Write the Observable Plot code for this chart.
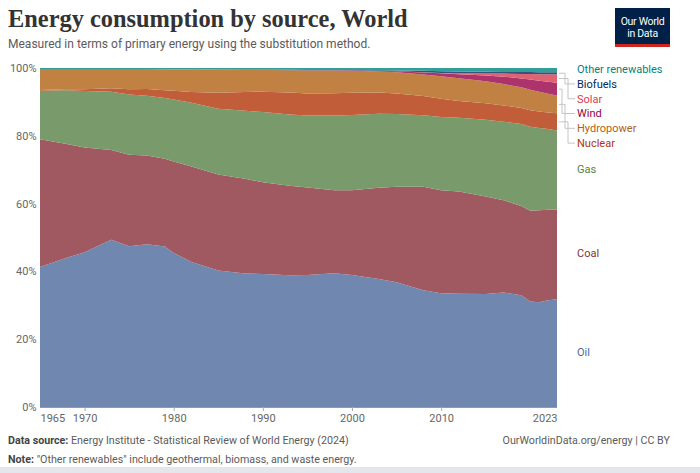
<!DOCTYPE html>
<html>
<head>
<meta charset="utf-8">
<script src="https://cdn.jsdelivr.net/npm/d3@7"></script>
<script src="https://cdn.jsdelivr.net/npm/@observablehq/plot@0.6"></script>
<style>
  html, body { margin: 0; padding: 0; background: #fff; }
  #wrap { position: relative; width: 700px; height: 473px; overflow: hidden;
          font-family: "Liberation Sans Narrow", "Roboto", "Liberation Sans", sans-serif; color: #5b5b5b; }
  #title { position: absolute; left: 8px; top: 5px; font-family: "Liberation Serif", "DejaVu Serif", serif;
           font-weight: bold; font-size: 24.4px; color: #333; white-space: nowrap; line-height: 28px; }
  #subtitle { position: absolute; left: 8px; top: 36px; font-size: 13px; color: #5b5b5b; white-space: nowrap; line-height: 16px;
              transform: scaleX(0.925); transform-origin: 0 0; }
  #logo { position: absolute; left: 615px; top: 8px; width: 55px; height: 39px; background: #002147; }
  #logo .bar { position: absolute; left: 0; bottom: 0; width: 55px; height: 3px; background: #ce261e; }
  #logo .t { position: absolute; left: 0; width: 55px; text-align: center; color: #fff; font-size: 10.5px; line-height: 10px; letter-spacing: -0.3px; }
  #chart { position: absolute; left: 0; top: 56px; }
  .foot { position: absolute; font-size: 11.5px; color: #5b5b5b; white-space: nowrap; line-height: 14px;
          transform: scaleX(0.93); transform-origin: 0 0; }
  .foot.r { transform-origin: 100% 0; }
  .foot b { color: #444; }
  #strip { position: absolute; left: 0; top: 467px; width: 700px; height: 6px; background: #e3e6ea; }
</style>
</head>
<body>
<div id="wrap">
  <div id="title">Energy consumption by source, World</div>
  <div id="subtitle">Measured in terms of primary energy using the substitution method.</div>
  <div id="logo"><div class="t" style="top:9px">Our World</div><div class="t" style="top:21px">in Data</div><div class="bar"></div></div>
  <div id="chart"></div>
  <div class="foot" style="left:8px; top:433px;"><b>Data source:</b> Energy Institute - Statistical Review of World Energy (2024)</div>
  <div class="foot r" style="right:30px; top:433px;">OurWorldinData.org/energy | CC BY</div>
  <div class="foot" style="left:8px; top:452px;"><b>Note:</b> "Other renewables" include geothermal, biomass, and waste energy.</div>
  <div id="strip"></div>
</div>
<script>
// ---- Data (shares of primary energy, %) ----
const years = [1965, 1968, 1970, 1973, 1975, 1977, 1979, 1980, 1982, 1985, 1988, 1990, 1993, 1995,
               1998, 2000, 2003, 2005, 2008, 2010, 2012, 2015, 2017, 2019, 2020, 2021, 2022, 2023];
const oil = [41.3, 44.0, 45.7, 49.3, 47.5, 48.0, 47.4, 45.5, 42.8, 40.3, 39.5, 39.2, 38.9, 39.0,
             39.5, 39.0, 37.8, 37.0, 34.6, 33.6, 33.4, 33.3, 33.8, 33.1, 31.2, 31.0, 31.6, 31.8];
const coal = [37.7, 33.6, 30.9, 26.5, 27.0, 26.2, 25.9, 27.0, 28.2, 28.3, 28.0, 27.1, 26.4, 25.8,
              24.5, 25.0, 27.0, 28.3, 30.6, 30.4, 30.2, 28.7, 27.2, 26.4, 26.8, 27.2, 26.7, 26.5];
const gas = [14.3, 15.8, 16.7, 17.2, 17.8, 17.6, 17.9, 18.3, 18.8, 19.4, 20.1, 20.7, 21.0, 21.3,
             22.0, 22.2, 21.8, 21.5, 21.2, 21.6, 21.8, 22.6, 23.2, 24.2, 24.8, 24.3, 23.9, 23.4];
const nuclear = [0.2, 0.3, 0.5, 1.0, 1.5, 2.0, 2.3, 2.6, 3.2, 4.7, 5.6, 6.0, 6.5, 6.5,
                 6.6, 6.6, 6.3, 6.1, 5.7, 5.4, 4.9, 4.8, 4.8, 4.8, 4.9, 4.9, 4.9, 5.1];
const hydropower = [6.2, 6.0, 6.0, 5.7, 6.0, 5.9, 6.2, 6.3, 6.6, 6.8, 6.5, 6.4, 6.6, 6.8,
                    6.7, 6.5, 6.2, 6.3, 6.4, 6.6, 6.7, 6.5, 6.3, 6.1, 6.1, 5.8, 5.5, 5.2];
const wind = [0, 0, 0, 0, 0, 0, 0, 0, 0, 0, 0, 0, 0, 0.02,
              0.05, 0.1, 0.2, 0.3, 0.6, 0.9, 1.2, 1.7, 2.2, 2.6, 3.0, 3.3, 3.6, 3.8];
const solar = [0, 0, 0, 0, 0, 0, 0, 0, 0, 0, 0, 0, 0, 0,
               0, 0, 0, 0, 0.05, 0.1, 0.3, 0.6, 0.9, 1.3, 1.6, 1.9, 2.2, 2.5];
const biofuels = [0, 0, 0, 0, 0, 0, 0.02, 0.03, 0.05, 0.07, 0.08, 0.1, 0.1, 0.1,
                  0.1, 0.1, 0.15, 0.2, 0.4, 0.5, 0.5, 0.5, 0.5, 0.6, 0.6, 0.6, 0.6, 0.6];
const otherRenewables = [0.3, 0.3, 0.3, 0.3, 0.3, 0.3, 0.35, 0.35, 0.4, 0.45, 0.5, 0.5, 0.55, 0.6,
                         0.6, 0.6, 0.7, 0.75, 0.85, 0.95, 1.05, 1.1, 1.15, 1.2, 1.2, 1.25, 1.25, 1.25];

const sources = ["Oil", "Coal", "Gas", "Nuclear", "Hydropower", "Wind", "Solar", "Biofuels", "Other renewables"];
const seriesValues = [oil, coal, gas, nuclear, hydropower, wind, solar, biofuels, otherRenewables];
const colors = ["#4C6A9C", "#883039", "#578145", "#B13507", "#B16214", "#970046", "#D73C50", "#00295B", "#00847E"];
const yTicks = [0, 0.2, 0.4, 0.6, 0.8, 1];
const xTicksMid = [1970, 1980, 1990, 2000, 2010];

const fills = colors.map(c => d3.interpolateRgb(c, "#fff")(0.2));
const data = sources.flatMap((s, i) => years.map((yr, j) => ({ year: yr, source: s, value: seriesValues[i][j] })));

const font = '"Liberation Sans Narrow", "Roboto", "Liberation Sans", sans-serif';
const chart = Plot.plot({
  width: 700, height: 374,
  marginTop: 12, marginBottom: 23, marginLeft: 40, marginRight: 143,
  x: { domain: [1965, 2023], label: null },
  y: { domain: [0, 1], label: null },
  color: { domain: sources, range: fills },
  style: { fontFamily: font, fontSize: "11px", color: "#666", background: "transparent" },
  marks: [
    Plot.areaY(data, Plot.stackY({ offset: "normalize", order: sources },
      { x: "year", y: "value", fill: "source", curve: "linear" })),
    Plot.ruleY([0], { stroke: "#999" }),
    Plot.axisY({ ticks: yTicks, tickFormat: d => Math.round(d * 100) + "%", tickSize: 0, tickPadding: 4, fontSize: 11, label: null }),
    Plot.axisX({ ticks: xTicksMid, tickFormat: d => String(d), tickSize: 4, tickPadding: 3, stroke: "#aaa", fill: "#666", fontSize: 11, label: null }),
    Plot.axisX({ ticks: [1965], tickFormat: d => String(d), tickSize: 0, tickPadding: 7, textAnchor: "start", fill: "#666", fontSize: 11, label: null }),
    Plot.axisX({ ticks: [2023], tickFormat: d => String(d), tickSize: 0, tickPadding: 7, textAnchor: "end", fill: "#666", fontSize: 11, label: null })
  ]
});
document.getElementById("chart").appendChild(chart);

// ---- Right-hand labels, placed with the chart's own scales ----
const xs = chart.scale("x"), ys = chart.scale("y");
const last = years.length - 1;
const total = d3.sum(seriesValues, s => s[last]);
let cum = 0;
const mids = sources.map((s, i) => {
  const v = seriesValues[i][last];
  const m = (cum + v / 2) / total;
  cum += v;
  return { s, i, y: ys.apply(m) };
});
const ordered = mids.slice().sort((a, b) => a.y - b.y);
const gap = 14.8;
let prev = ys.apply(1) + 1 - gap;
ordered.forEach(l => { l.ly = Math.max(l.y - 1, prev + gap); prev = l.ly; });

const svg = d3.select(chart);
const x0 = xs.apply(2023) + 2;
const g = svg.append("g").attr("text-anchor", "start");
ordered.forEach((l, k) => {
  if (Math.abs(l.ly - l.y) > 1.5) {
    const xk = x0 + 3 + (k % 3) * 3;
    g.append("path")
      .attr("d", `M${x0},${l.y}H${xk}V${l.ly}H${x0 + 16}`)
      .attr("fill", "none").attr("stroke", "#c4c4c4").attr("stroke-width", 1);
  }
  g.append("text")
    .attr("x", x0 + 18).attr("y", l.ly).attr("dy", "0.35em")
    .attr("text-anchor", "start")
    .attr("fill", colors[l.i]).attr("font-size", "11px").attr("font-family", font)
    .text(l.s);
});
</script>
</body>
</html>
